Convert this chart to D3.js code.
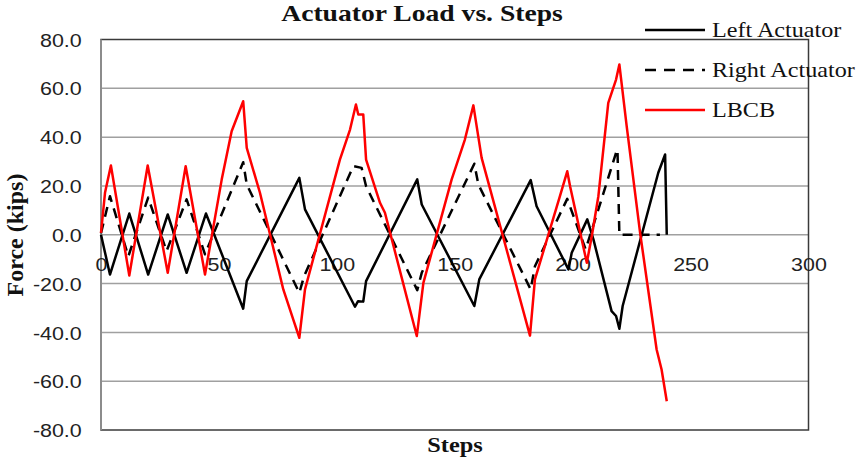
<!DOCTYPE html>
<html>
<head>
<meta charset="utf-8">
<script src="https://cdn.jsdelivr.net/npm/d3@7"></script>
<style>
  html, body { margin: 0; padding: 0; background: #fff; }
  svg { display: block; }
</style>
</head>
<body>
<svg id="chart" width="859" height="460"></svg>
<script>
// Actuator and LBCB forces (kips) sampled at the turning points of each loading step
const leftSteps = [0, 3.8, 12, 20, 28.3, 36.3, 44.5, 60.3, 61.8, 84.1, 86.5, 107.7, 109, 111.2, 112.4,
  134.1, 136, 158.3, 160.4, 182.2, 184.7, 198.2, 199.6, 206.2, 208.8, 216.5, 218.4, 219.8, 221.2,
  236.3, 239.2, 239.9];
const leftForce = [0, -16.3, 8.7, -16.3, 8.3, -15.6, 8.7, -30.3, -19, 23.3, 10.4, -29.5, -27.2, -27.4, -19,
  22.7, 12.4, -29.2, -18.3, 22.4, 11.7, -14.2, -7.4, 6.3, -1.9, -31.3, -33.3, -38.5, -29.2,
  25.4, 32.9, 0];

const rightSteps = [0, 3.8, 11.6, 20, 27.8, 36.3, 44.1, 60.3, 61.8, 84.1, 86.1, 107, 110.5, 112.4,
  134.1, 136, 158.3, 160, 182.2, 184, 197.7, 205.5, 210.9, 218.4, 219, 219.8, 237];
const rightForce = [0.6, 15.8, -8.8, 15.2, -6.7, 14.5, -8, 29.7, 20.6, -23.8, -17, 28.1, 27.4, 19.9,
  -22.7, -15.6, 29.1, 20.6, -22.4, -12.9, 14.7, -6, 10.4, 33.6, 34.9, 0, 0];

const lbcbSteps = [0, 1.7, 4.2, 12, 19.8, 28.3, 35.9, 44.1, 51.2, 55.4, 60.3, 61.8, 67.4, 77.3, 81.5, 84.1,
  86.5, 101.3, 105.6, 108.1, 109.1, 111.2, 112.4, 118.3, 120.4, 133.9, 136.7, 148.7, 154.3, 157.9,
  161.4, 181.9, 184, 194.6, 197.7, 198.9, 206, 208.1, 210.9, 215.1, 218.4, 219.8, 222.9, 228.6,
  235.6, 237.7, 239.9];
const lbcbForce = [0.8, 17.2, 28.4, -16.7, 28.4, -15.6, 28.1, -16.3, 22.7, 42.4, 54.7, 35.6, 17.2, -22.4, -34.7, -42.2,
  -22.4, 30.8, 43.1, 53.4, 49.3, 49.3, 30.8, 13.1, 9, -41.5, -19.7, 22.7, 39, 53,
  31.5, -41.3, -18.3, 15.8, 26, 19.9, -11.5, -0.6, 15.8, 54, 63.6, 69.8, 44.5, 0.8,
  -47, -55.2, -68.2];

const xTicks = [0, 50, 100, 150, 200, 250, 300];
const yTicks = [-80, -60, -40, -20, 0, 20, 40, 60, 80];

const seriesNames = ["Left Actuator", "Right Actuator", "LBCB"];
const seriesColors = ["#000000", "#000000", "#ff0000"];
const seriesDash = [null, "10,7", null];

const svg = d3.select("#chart");
const plot = { left: 101, right: 808.5, top: 39.5, bottom: 430 };
const stretch = 1.16; // horizontal text stretch

const x = d3.scaleLinear().domain([0, 300]).range([plot.left, plot.right]);
const y = d3.scaleLinear().domain([-80, 80]).range([plot.bottom, plot.top]);

// plain hyphen for negative values
const fmtY = d => (d < 0 ? "-" : "") + Math.abs(d).toFixed(1);

// horizontal gridlines
svg.append("g")
  .selectAll("line")
  .data(yTicks.filter(d => d > -80 && d < 80))
  .join("line")
  .attr("x1", plot.left).attr("x2", plot.right)
  .attr("y1", d => y(d)).attr("y2", d => y(d))
  .attr("stroke", "#a0a0a0").attr("stroke-width", 1.5);

// plot frame
svg.append("rect")
  .attr("x", plot.left).attr("y", plot.top)
  .attr("width", plot.right - plot.left).attr("height", plot.bottom - plot.top)
  .attr("fill", "none").attr("stroke", "#3a3a3a").attr("stroke-width", 1.5);
svg.append("line")
  .attr("x1", plot.left).attr("x2", plot.left)
  .attr("y1", plot.top).attr("y2", plot.bottom)
  .attr("stroke", "#8c8c8c").attr("stroke-width", 2);

// y axis labels
const yAxis = svg.append("g")
  .attr("transform", `translate(${plot.left},0)`)
  .call(d3.axisLeft(y).tickValues(yTicks).tickFormat(fmtY).tickSize(0).tickPadding(16.6));
yAxis.select(".domain").remove();
yAxis.selectAll("text")
  .attr("font-family", "'Liberation Sans', Arial, sans-serif")
  .attr("font-size", 18.5).attr("fill", "#222")
  .attr("dy", "0.36em")
  .attr("transform", `scale(${stretch},1)`);

// x axis labels, crossing at zero
const xAxis = svg.append("g")
  .attr("transform", `translate(0,${y(0)})`)
  .call(d3.axisBottom(x).tickValues(xTicks).tickFormat(d3.format("d")).tickSize(0).tickPadding(23));
xAxis.select(".domain").remove();
xAxis.selectAll("text")
  .attr("font-family", "'Liberation Sans', Arial, sans-serif")
  .attr("font-size", 18.5).attr("fill", "#222")
  .attr("transform", `scale(${stretch},1)`);

// series lines
const line = d3.line().x(d => x(d[0])).y(d => y(d[1]));
const series = [
  d3.zip(leftSteps, leftForce),
  d3.zip(rightSteps, rightForce),
  d3.zip(lbcbSteps, lbcbForce)
];
series.forEach((pts, i) => {
  svg.append("path")
    .datum(pts)
    .attr("d", line)
    .attr("fill", "none")
    .attr("stroke", seriesColors[i])
    .attr("stroke-width", 2.5)
    .attr("stroke-linejoin", "round")
    .attr("stroke-dasharray", seriesDash[i]);
});

// legend
const legend = svg.append("g");
seriesNames.forEach((name, i) => {
  const cy = 30 + i * 40;
  legend.append("line")
    .attr("x1", 645).attr("x2", 705).attr("y1", cy).attr("y2", cy)
    .attr("stroke", seriesColors[i]).attr("stroke-width", 2.6)
    .attr("stroke-dasharray", seriesDash[i] ? "11,8" : null);
  legend.append("text")
    .attr("transform", `translate(712,${cy + 7}) scale(1.15,1)`)
    .attr("font-family", "'Liberation Serif', 'Times New Roman', serif")
    .attr("font-size", 21).attr("fill", "#111")
    .text(name);
});

// titles
svg.append("text")
  .attr("transform", `translate(422,21) scale(1.2,1)`)
  .attr("text-anchor", "middle")
  .attr("font-family", "'Liberation Serif', 'Times New Roman', serif")
  .attr("font-weight", "bold").attr("font-size", 23).attr("fill", "#111")
  .text("Actuator Load vs. Steps");

svg.append("text")
  .attr("transform", `translate(455,452) scale(${stretch},1)`)
  .attr("text-anchor", "middle")
  .attr("font-family", "'Liberation Serif', 'Times New Roman', serif")
  .attr("font-weight", "bold").attr("font-size", 21).attr("fill", "#111")
  .text("Steps");

svg.append("text")
  .attr("transform", "translate(23,235) rotate(-90)")
  .attr("text-anchor", "middle")
  .attr("font-family", "'Liberation Serif', 'Times New Roman', serif")
  .attr("font-weight", "bold").attr("font-size", 24).attr("fill", "#111")
  .text("Force (kips)");
</script>
</body>
</html>
